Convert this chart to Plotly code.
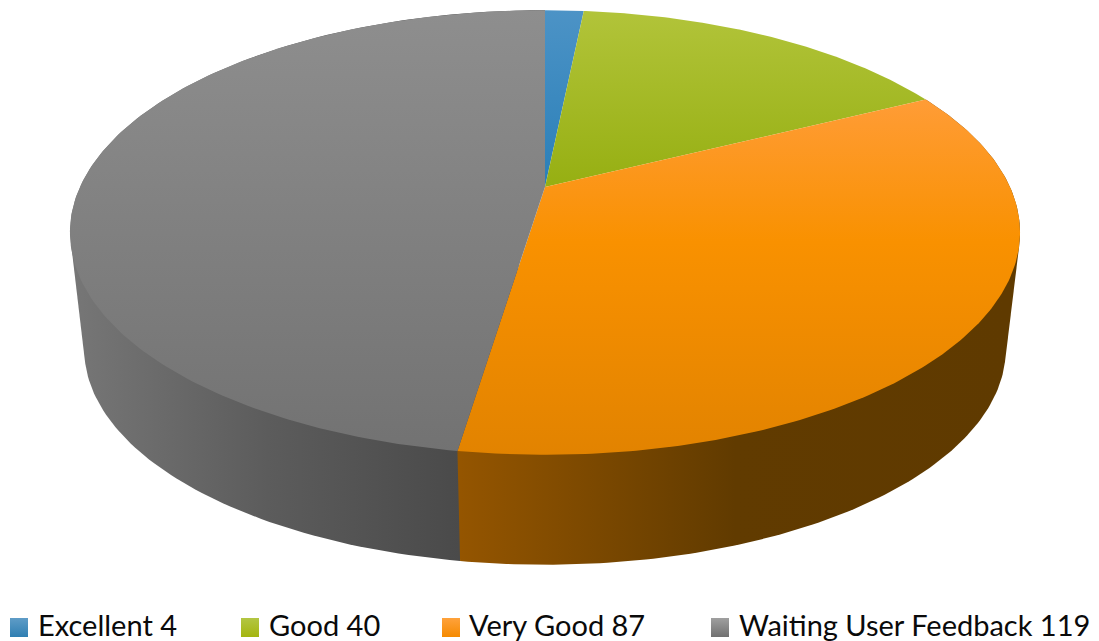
import numpy as np
import plotly.graph_objects as go

categories = ["Excellent", "Good", "Very Good", "Waiting User Feedback"]
values = [4, 40, 87, 119]

# vertical gradient of each top face: (start y, stop y, colour stops)
top_styles = [
    (10, 187, [[0, "#4c93c6"], [1, "#2a7fb8"]]),
    (10, 187, [[0, "#b2c43a"], [1, "#96af12"]]),
    (100, 455, [[0, "#ff9c36"], [0.4, "#f99100"], [1, "#e28300"]]),
    (10, 455, [[0, "#8e8e8e"], [1, "#727272"]]),
]
# horizontal gradient of each visible side: (start x, stop x, colour stops)
side_styles = {
    2: (460, 1010, [[0, "#945500"], [0.5, "#613b00"], [1, "#5f3a00"]]),
    3: (75, 460, [[0, "#767676"], [0.5, "#5c5c5c"], [1, "#4a4a4a"]]),
}
swatch_colors = [("#5f9cc7", "#2f7fb2"), ("#b3c644", "#a4b50f"), ("#ffa23c", "#f58a00"), ("#a0a0a0", "#707070")]
swatch_x = [10, 241, 442, 711]
text_x = [37, 268, 468, 738]

W, H = 1099, 641
PAGE_MARGIN = 8
CX, CY, RX, RY, K = 545, 187, 465, 213, 0.2045
F, CY2 = 0.97, 305


def rim(deg, f=1.0, cy=CY):
    t = np.radians(deg)
    u, v = np.sin(t), np.cos(t)
    s = 1 / (1 + K * v)
    return CX + RX * f * u * s, cy - RY * f * v * s


def hull(xs, ys):
    pts = sorted(set(zip(np.round(xs, 3).tolist(), np.round(ys, 3).tolist())))

    def half(seq):
        out = []
        for p in seq:
            while len(out) > 1 and ((out[-1][0] - out[-2][0]) * (p[1] - out[-2][1])
                                    - (out[-1][1] - out[-2][1]) * (p[0] - out[-2][0])) <= 0:
                out.pop()
            out.append(p)
        return out[:-1]

    h = half(pts) + half(pts[::-1])
    h.append(h[0])
    return [p[0] for p in h], [p[1] for p in h]


fig = go.Figure()
edges = np.concatenate([[0], np.cumsum(values)]) / sum(values) * 360

# sides of the disc, drawn first so that the top faces cover their hidden part
for i in (3, 2):
    d = np.linspace(edges[i], edges[i + 1], 160)
    x1, y1 = rim(d)
    x2, y2 = rim(d, F, CY2)
    hx, hy = hull(np.r_[x1, x2], np.r_[y1, y2])
    start, stop, scale = side_styles[i]
    fig.add_trace(go.Scatter(x=hx, y=hy, mode="lines", line=dict(width=0), fill="toself",
                             fillgradient=dict(type="horizontal", colorscale=scale, start=start, stop=stop),
                             hoverinfo="skip", showlegend=False))

# top faces
for i, (start, stop, scale) in enumerate(top_styles):
    d = np.linspace(edges[i], edges[i + 1], 200)
    x, y = rim(d)
    fig.add_trace(go.Scatter(x=np.r_[CX, x, CX], y=np.r_[CY, y, CY], mode="lines", line=dict(width=0),
                             fill="toself",
                             fillgradient=dict(type="vertical", colorscale=scale, start=start, stop=stop),
                             hoverinfo="skip", showlegend=False))

# legend
annotations = []
for i, cat in enumerate(categories):
    x0 = swatch_x[i]
    c0, c1 = swatch_colors[i]
    fig.add_trace(go.Scatter(x=[x0, x0 + 18, x0 + 18, x0, x0], y=[618, 618, 637, 637, 618], mode="lines",
                             line=dict(width=0), fill="toself",
                             fillgradient=dict(type="vertical", colorscale=[[0, c0], [1, c1]], start=618, stop=637),
                             hoverinfo="skip", showlegend=False))
    annotations.append(dict(x=text_x[i], y=641, yshift=-2, xref="x", yref="y", xanchor="left", yanchor="bottom",
                            text=f"{cat} {values[i]}", showarrow=False, borderpad=0,
                            font=dict(family="Lato", size=29, color="#0a0a0a")))

fig.update_layout(
    width=W - PAGE_MARGIN, height=H - PAGE_MARGIN, margin=dict(l=0, r=0, t=0, b=0),
    paper_bgcolor="white", plot_bgcolor="white",
    xaxis=dict(range=[PAGE_MARGIN, W], visible=False, fixedrange=True),
    yaxis=dict(range=[H, PAGE_MARGIN], visible=False, fixedrange=True),
    annotations=annotations, showlegend=False,
)
fig.write_html("out.html", config=dict(displayModeBar=False))
